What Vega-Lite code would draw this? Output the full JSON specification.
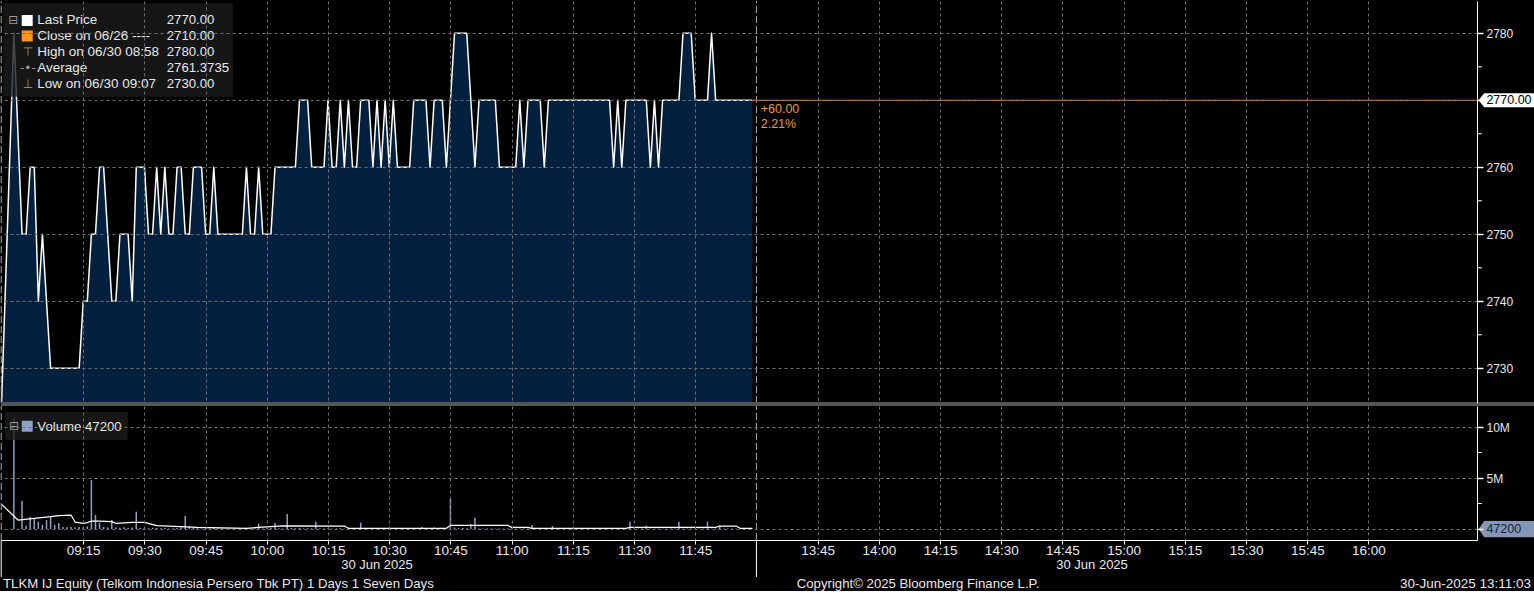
{
  "$schema": "https://vega.github.io/schema/vega-lite/v6.json",
  "background": "#000000",
  "padding": 0,
  "spacing": 3,
  "bounds": "flush",
  "config": {
    "view": {"stroke": null},
    "font": "Liberation Sans",
    "text": {"font": "Liberation Sans"}
  },
  "datasets": {
    "price": [
      {"m":-5.0,"p":2725},{"m":-2,"p":2780},{"m":0,"p":2750},{"m":1,"p":2750},{"m":2,"p":2760},{"m":3,"p":2760},{"m":4,"p":2740},{"m":5,"p":2750},{"m":6,"p":2740},{"m":7,"p":2730},{"m":8,"p":2730},{"m":9,"p":2730},{"m":10,"p":2730},{"m":11,"p":2730},{"m":12,"p":2730},{"m":13,"p":2730},{"m":14,"p":2730},{"m":15,"p":2740},{"m":16,"p":2740},{"m":17,"p":2750},{"m":18,"p":2750},{"m":19,"p":2760},{"m":20,"p":2760},{"m":21,"p":2750},{"m":22,"p":2740},{"m":23,"p":2740},{"m":24,"p":2750},{"m":25,"p":2750},{"m":26,"p":2750},{"m":27,"p":2740},{"m":28,"p":2760},{"m":29,"p":2760},{"m":30,"p":2760},{"m":31,"p":2750},{"m":32,"p":2750},{"m":33,"p":2760},{"m":34,"p":2750},{"m":35,"p":2760},{"m":36,"p":2750},{"m":37,"p":2750},{"m":38,"p":2760},{"m":39,"p":2760},{"m":40,"p":2750},{"m":41,"p":2750},{"m":42,"p":2760},{"m":43,"p":2760},{"m":44,"p":2760},{"m":45,"p":2750},{"m":46,"p":2750},{"m":47,"p":2760},{"m":48,"p":2750},{"m":49,"p":2750},{"m":50,"p":2750},{"m":51,"p":2750},{"m":52,"p":2750},{"m":53,"p":2750},{"m":54,"p":2750},{"m":55,"p":2760},{"m":56,"p":2750},{"m":57,"p":2750},{"m":58,"p":2760},{"m":59,"p":2750},{"m":60,"p":2750},{"m":61,"p":2750},{"m":62,"p":2760},{"m":63,"p":2760},{"m":64,"p":2760},{"m":65,"p":2760},{"m":66,"p":2760},{"m":67,"p":2760},{"m":68,"p":2770},{"m":69,"p":2770},{"m":70,"p":2770},{"m":71,"p":2760},{"m":72,"p":2760},{"m":73,"p":2760},{"m":74,"p":2760},{"m":75,"p":2770},{"m":76,"p":2760},{"m":77,"p":2760},{"m":78,"p":2770},{"m":79,"p":2760},{"m":80,"p":2770},{"m":81,"p":2760},{"m":82,"p":2760},{"m":83,"p":2770},{"m":84,"p":2770},{"m":85,"p":2770},{"m":86,"p":2760},{"m":87,"p":2770},{"m":88,"p":2760},{"m":89,"p":2770},{"m":90,"p":2760},{"m":91,"p":2770},{"m":92,"p":2760},{"m":93,"p":2760},{"m":94,"p":2760},{"m":95,"p":2760},{"m":96,"p":2770},{"m":97,"p":2770},{"m":98,"p":2770},{"m":99,"p":2770},{"m":100,"p":2760},{"m":101,"p":2770},{"m":102,"p":2770},{"m":103,"p":2770},{"m":104,"p":2760},{"m":105,"p":2770},{"m":106,"p":2780},{"m":107,"p":2780},{"m":108,"p":2780},{"m":109,"p":2780},{"m":110,"p":2770},{"m":111,"p":2760},{"m":112,"p":2770},{"m":113,"p":2770},{"m":114,"p":2770},{"m":115,"p":2770},{"m":116,"p":2770},{"m":117,"p":2760},{"m":118,"p":2760},{"m":119,"p":2760},{"m":120,"p":2760},{"m":121,"p":2760},{"m":122,"p":2770},{"m":123,"p":2760},{"m":124,"p":2770},{"m":125,"p":2770},{"m":126,"p":2770},{"m":127,"p":2770},{"m":128,"p":2760},{"m":129,"p":2770},{"m":130,"p":2770},{"m":131,"p":2770},{"m":132,"p":2770},{"m":133,"p":2770},{"m":134,"p":2770},{"m":135,"p":2770},{"m":136,"p":2770},{"m":137,"p":2770},{"m":138,"p":2770},{"m":139,"p":2770},{"m":140,"p":2770},{"m":141,"p":2770},{"m":142,"p":2770},{"m":143,"p":2770},{"m":144,"p":2770},{"m":145,"p":2760},{"m":146,"p":2770},{"m":147,"p":2760},{"m":148,"p":2770},{"m":149,"p":2770},{"m":150,"p":2770},{"m":151,"p":2770},{"m":152,"p":2770},{"m":153,"p":2770},{"m":154,"p":2760},{"m":155,"p":2770},{"m":156,"p":2760},{"m":157,"p":2770},{"m":158,"p":2770},{"m":159,"p":2770},{"m":160,"p":2770},{"m":161,"p":2770},{"m":162,"p":2780},{"m":163,"p":2780},{"m":164,"p":2780},{"m":165,"p":2770},{"m":166,"p":2770},{"m":167,"p":2770},{"m":168,"p":2770},{"m":169,"p":2780},{"m":170,"p":2770},{"m":171,"p":2770},{"m":172,"p":2770},{"m":173,"p":2770},{"m":174,"p":2770},{"m":175,"p":2770},{"m":176,"p":2770},{"m":177,"p":2770},{"m":178,"p":2770},{"m":179,"p":2770}
    ],
    "volume": [
      {"m":-2,"v":10850000},{"m":0,"v":2750000},{"m":1,"v":330000},{"m":2,"v":1180000},{"m":3,"v":1050000},{"m":4,"v":720000},{"m":5,"v":400000},{"m":6,"v":880000},{"m":7,"v":1200000},{"m":8,"v":400000},{"m":9,"v":590000},{"m":10,"v":200000},{"m":11,"v":180000},{"m":12,"v":200000},{"m":13,"v":150000},{"m":14,"v":200000},{"m":15,"v":180000},{"m":16,"v":250000},{"m":17,"v":4800000},{"m":18,"v":1370000},{"m":19,"v":620000},{"m":20,"v":200000},{"m":21,"v":150000},{"m":22,"v":880000},{"m":23,"v":150000},{"m":24,"v":120000},{"m":25,"v":180000},{"m":26,"v":100000},{"m":27,"v":150000},{"m":28,"v":1700000},{"m":29,"v":120000},{"m":30,"v":100000},{"m":31,"v":80000},{"m":32,"v":120000},{"m":33,"v":100000},{"m":34,"v":80000},{"m":35,"v":100000},{"m":36,"v":60000},{"m":37,"v":80000},{"m":38,"v":100000},{"m":39,"v":150000},{"m":40,"v":1270000},{"m":41,"v":250000},{"m":42,"v":100000},{"m":43,"v":80000},{"m":44,"v":60000},{"m":45,"v":80000},{"m":46,"v":60000},{"m":47,"v":100000},{"m":48,"v":60000},{"m":49,"v":50000},{"m":50,"v":60000},{"m":51,"v":50000},{"m":52,"v":60000},{"m":53,"v":50000},{"m":54,"v":60000},{"m":55,"v":100000},{"m":56,"v":60000},{"m":57,"v":80000},{"m":58,"v":520000},{"m":59,"v":60000},{"m":60,"v":80000},{"m":61,"v":100000},{"m":62,"v":590000},{"m":63,"v":80000},{"m":64,"v":60000},{"m":65,"v":1470000},{"m":66,"v":100000},{"m":67,"v":80000},{"m":68,"v":100000},{"m":69,"v":60000},{"m":70,"v":80000},{"m":71,"v":60000},{"m":72,"v":720000},{"m":73,"v":50000},{"m":74,"v":60000},{"m":75,"v":80000},{"m":76,"v":50000},{"m":77,"v":60000},{"m":78,"v":80000},{"m":79,"v":50000},{"m":80,"v":60000},{"m":81,"v":50000},{"m":82,"v":60000},{"m":83,"v":620000},{"m":84,"v":60000},{"m":85,"v":50000},{"m":86,"v":40000},{"m":87,"v":50000},{"m":88,"v":40000},{"m":89,"v":50000},{"m":90,"v":40000},{"m":91,"v":50000},{"m":92,"v":40000},{"m":93,"v":40000},{"m":94,"v":50000},{"m":95,"v":40000},{"m":96,"v":50000},{"m":97,"v":40000},{"m":98,"v":200000},{"m":99,"v":40000},{"m":100,"v":50000},{"m":101,"v":150000},{"m":102,"v":50000},{"m":103,"v":40000},{"m":104,"v":60000},{"m":105,"v":2940000},{"m":106,"v":150000},{"m":107,"v":120000},{"m":108,"v":100000},{"m":109,"v":80000},{"m":110,"v":490000},{"m":111,"v":1110000},{"m":112,"v":60000},{"m":113,"v":50000},{"m":114,"v":60000},{"m":115,"v":50000},{"m":116,"v":40000},{"m":117,"v":50000},{"m":118,"v":40000},{"m":119,"v":50000},{"m":120,"v":40000},{"m":121,"v":50000},{"m":122,"v":40000},{"m":123,"v":50000},{"m":124,"v":40000},{"m":125,"v":390000},{"m":126,"v":40000},{"m":127,"v":50000},{"m":128,"v":40000},{"m":129,"v":40000},{"m":130,"v":290000},{"m":131,"v":40000},{"m":132,"v":40000},{"m":133,"v":40000},{"m":134,"v":40000},{"m":135,"v":40000},{"m":136,"v":40000},{"m":137,"v":40000},{"m":138,"v":40000},{"m":139,"v":40000},{"m":140,"v":40000},{"m":141,"v":40000},{"m":142,"v":40000},{"m":143,"v":40000},{"m":144,"v":40000},{"m":145,"v":40000},{"m":146,"v":40000},{"m":147,"v":40000},{"m":148,"v":40000},{"m":149,"v":720000},{"m":150,"v":40000},{"m":151,"v":40000},{"m":152,"v":40000},{"m":153,"v":330000},{"m":154,"v":40000},{"m":155,"v":40000},{"m":156,"v":40000},{"m":157,"v":40000},{"m":158,"v":40000},{"m":159,"v":40000},{"m":160,"v":40000},{"m":161,"v":720000},{"m":162,"v":40000},{"m":163,"v":40000},{"m":164,"v":40000},{"m":165,"v":40000},{"m":166,"v":40000},{"m":167,"v":40000},{"m":168,"v":720000},{"m":169,"v":40000},{"m":170,"v":40000},{"m":171,"v":330000},{"m":172,"v":40000},{"m":173,"v":40000},{"m":174,"v":40000},{"m":175,"v":40000},{"m":176,"v":40000},{"m":177,"v":40000},{"m":178,"v":40000},{"m":179,"v":47200}
    ],
    "ma": [
      {"m":-5.0,"v":2420000},{"m":-1,"v":880000},{"m":3,"v":1050000},{"m":7,"v":1210000},{"m":9,"v":1310000},{"m":12,"v":1370000},{"m":13,"v":680000},{"m":15,"v":560000},{"m":16,"v":620000},{"m":17,"v":780000},{"m":19,"v":780000},{"m":22,"v":720000},{"m":23,"v":560000},{"m":27,"v":650000},{"m":30,"v":650000},{"m":33,"v":330000},{"m":43,"v":160000},{"m":55,"v":70000},{"m":58,"v":160000},{"m":64,"v":300000},{"m":79,"v":290000},{"m":80,"v":70000},{"m":104,"v":70000},{"m":105,"v":350000},{"m":119,"v":370000},{"m":120,"v":160000},{"m":124,"v":160000},{"m":125,"v":70000},{"m":148,"v":70000},{"m":149,"v":160000},{"m":170,"v":160000},{"m":171,"v":290000},{"m":175,"v":290000},{"m":176,"v":70000},{"m":179,"v":70000}
    ]
  },
  "vconcat": [
    {
      "width": 1476,
      "height": 402,
      "encoding": {
        "x": {"field": "m", "type": "quantitative", "scale": {"domain": [-5.155, 356.6], "nice": false, "zero": false},
          "axis": {"values": [15,30,45,60,75,90,105,120,135,150,165,195,210,225,240,255,270,285,300,315,330], "grid": true, "gridColor": "#6e6e6e", "gridDash": [3,3], "labels": false, "ticks": false, "domain": false, "title": null, "zindex": 1}},
        "y": {"field": "p", "type": "quantitative", "scale": {"domain": [2724.82, 2784.82], "nice": false, "zero": false},
          "axis": {"orient": "right", "values": [2730,2740,2750,2760,2770,2780], "format": "d", "labelExpr": "datum.value == 2770 ? '' : datum.label", "grid": true, "gridColor": "#6e6e6e", "gridDash": [3,3], "domainColor": "#ffffff", "tickColor": "#ffffff", "tickSize": 6, "tickWidth": 1.5, "labelColor": "#e8e8e8", "labelFontSize": 12, "labelPadding": 3, "title": null, "zindex": 1}}
      },
      "layer": [
        {
          "data": {"name": "price"},
          "mark": {"type": "area", "color": "#04203f", "interpolate": "linear"},
          "encoding": {"y2": {"datum": 2724.82}}
        },
        {
          "data": {"name": "price"},
          "mark": {"type": "line", "color": "#ffffff", "strokeWidth": 1.5, "strokeJoin": "round", "interpolate": "linear"}
        },
        {
          "data": {"values": [{"m": -5.1, "p": 2724.82, "p2": 2784.82}, {"m": 180, "p": 2724.82, "p2": 2784.82}]},
          "mark": {"type": "rule", "color": "#a8a8a8", "strokeDash": [7,3], "strokeWidth": 1},
          "encoding": {"y2": {"field": "p2"}}
        },
        {
          "data": {"values": [{"m": 179, "m2": 358, "p": 2770}]},
          "mark": {"type": "rule", "color": "#f0902a", "strokeWidth": 1},
          "encoding": {"x2": {"field": "m2"}}
        },
        {
          "data": {"values": [{"m": 357.3, "p": 2735}, {"m": 357.3, "p": 2745}, {"m": 357.3, "p": 2755}, {"m": 357.3, "p": 2765}, {"m": 357.3, "p": 2775}]},
          "mark": {"type": "tick", "orient": "horizontal", "size": 4, "thickness": 1, "color": "#ffffff", "opacity": 1}
        },
        {
          "data": {"values": [{"m": -4.58, "m2": 51.7, "p": 2784.48, "p2": 2770.54}]},
          "mark": {"type": "rect", "color": "#1b1b1b", "opacity": 0.8},
          "encoding": {"x2": {"field": "m2"}, "y2": {"field": "p2"}}
        },
        {
          "data": {"values": [{"m": 1.27, "p": 2781.91}]},
          "mark": {"type": "point", "shape": "square", "filled": true, "size": 121, "color": "#ffffff", "opacity": 1}
        },
        {
          "data": {"values": [{"m": 1.27, "p": 2779.6}]},
          "mark": {"type": "point", "shape": "square", "filled": true, "size": 121, "color": "#f7941d", "opacity": 1}
        },
        {
          "data": {"values": [
            {"m": 3.75, "p": 2781.91, "t": "Last Price"},
            {"m": 3.75, "p": 2779.6, "t": "Close on 06/26 ----"},
            {"m": 3.75, "p": 2777.21, "t": "High on 06/30 08:58"},
            {"m": 3.75, "p": 2774.82, "t": "Average"},
            {"m": 3.75, "p": 2772.43, "t": "Low on 06/30 09:07"}
          ]},
          "mark": {"type": "text", "align": "left", "baseline": "middle", "color": "#e8e8e8", "fontSize": 13.5},
          "encoding": {"text": {"field": "t"}}
        },
        {
          "data": {"values": [
            {"m": 35.46, "p": 2781.91, "t": "2770.00"},
            {"m": 35.46, "p": 2779.6, "t": "2710.00"},
            {"m": 35.46, "p": 2777.21, "t": "2780.00"},
            {"m": 35.46, "p": 2774.82, "t": "2761.3735"},
            {"m": 35.46, "p": 2772.43, "t": "2730.00"}
          ]},
          "mark": {"type": "text", "align": "left", "baseline": "middle", "color": "#e8e8e8", "fontSize": 13.2},
          "encoding": {"text": {"field": "t"}}
        },
        {
          "data": {"values": [
            {"m": -2.13, "p": 2781.91, "t": "⊟"},
            {"m": 1.43, "p": 2777.21, "t": "⊤"},
            {"m": 1.43, "p": 2774.82, "t": "-•-"},
            {"m": 1.43, "p": 2772.43, "t": "⊥"}
          ]},
          "mark": {"type": "text", "align": "center", "baseline": "middle", "color": "#9a9a9a", "fontSize": 12, "font": "DejaVu Sans"},
          "encoding": {"text": {"field": "t"}}
        },
        {
          "data": {"values": [
            {"m": 181.05, "p": 2768.66, "t": "+60.00"},
            {"m": 181.05, "p": 2766.46, "t": "2.21%"}
          ]},
          "mark": {"type": "text", "align": "left", "baseline": "middle", "color": "#f0982e", "fontSize": 12.5},
          "encoding": {"text": {"field": "t"}}
        },
        {
          "data": {"values": [{"m": 363.85, "p": 2770}]},
          "mark": {"type": "point", "shape": "M-1,0L-0.8,-0.25L1,-0.25L1,0.25L-0.8,0.25Z", "filled": true, "size": 3136, "color": "#ffffff", "opacity": 1, "strokeWidth": 0}
        },
        {
          "data": {"values": [{"m": 358.9, "p": 2770, "t": "2770.00"}]},
          "mark": {"type": "text", "align": "left", "baseline": "middle", "color": "#000000", "fontSize": 12.5},
          "encoding": {"text": {"field": "t"}}
        },
        {
          "data": {"values": [{"m": -5.155, "m2": 371, "p": 2724.97, "p2": 2724.37}]},
          "mark": {"type": "rect", "color": "#555555"},
          "encoding": {"x2": {"field": "m2"}, "y2": {"field": "p2"}}
        }
      ]
    },
    {
      "width": 1476,
      "height": 134,
      "encoding": {
        "x": {"field": "m", "type": "quantitative", "scale": {"domain": [-5.155, 356.6], "nice": false, "zero": false},
          "axis": {"values": [15,30,45,60,75,90,105,120,135,150,165,195,210,225,240,255,270,285,300,315,330], "labelExpr": "timeFormat(datetime(2025, 5, 30, 9, datum.value < 180 ? datum.value : datum.value + 90), '%H:%M')", "grid": true, "gridColor": "#6e6e6e", "gridDash": [3,3], "domainColor": "#ffffff", "tickColor": "#ffffff", "tickSize": 4, "labelColor": "#e8e8e8", "labelFontSize": 13.5, "labelPadding": -1, "labelFlush": false, "labelOverlap": false, "title": null, "zindex": 1}},
        "y": {"field": "v", "type": "quantitative", "scale": {"domain": [-1078000, 12060000], "nice": false, "zero": false},
          "axis": {"orient": "right", "values": [0, 5000000, 10000000], "labelExpr": "datum.value == 0 ? '' : format(datum.value / 1000000, 'd') + 'M'", "grid": true, "gridColor": "#6e6e6e", "gridDash": [3,3], "domainColor": "#ffffff", "tickColor": "#ffffff", "tickSize": 6, "tickWidth": 1.5, "labelColor": "#e8e8e8", "labelFontSize": 12, "labelPadding": 3, "title": null, "zindex": 1}}
      },
      "layer": [
        {
          "data": {"name": "volume"},
          "mark": {"type": "rule", "color": "#8da2c2", "strokeWidth": 1.5},
          "encoding": {"y2": {"datum": 0}}
        },
        {
          "data": {"name": "ma"},
          "mark": {"type": "line", "color": "#ffffff", "strokeWidth": 1.2, "strokeJoin": "round"}
        },
        {
          "data": {"values": [{"m": -5.1, "v": -1078000, "v2": 12060000}, {"m": 180, "v": -1078000, "v2": 12060000}]},
          "mark": {"type": "rule", "color": "#a8a8a8", "strokeDash": [7,3], "strokeWidth": 1},
          "encoding": {"y2": {"field": "v2"}}
        },
        {
          "data": {"values": [{"m": -5.1, "v": -1078000, "v2": -4700000}, {"m": 180, "v": -1078000, "v2": -4700000}]},
          "mark": {"type": "rule", "color": "#ffffff", "strokeWidth": 1},
          "encoding": {"y2": {"field": "v2"}}
        },
        {
          "data": {"values": [{"m": 357.3, "v": 2500000}, {"m": 357.3, "v": 7500000}]},
          "mark": {"type": "tick", "orient": "horizontal", "size": 4, "thickness": 1, "color": "#ffffff", "opacity": 1}
        },
        {
          "data": {"values": [{"m": -4.17, "m2": 25.9, "v": 11470000, "v2": 8730000}]},
          "mark": {"type": "rect", "color": "#1b1b1b", "opacity": 0.8},
          "encoding": {"x2": {"field": "m2"}, "y2": {"field": "v2"}}
        },
        {
          "data": {"values": [{"m": 1.27, "v": 10080000}]},
          "mark": {"type": "point", "shape": "square", "filled": true, "size": 121, "color": "#8da2c2", "opacity": 1}
        },
        {
          "data": {"values": [{"m": -1.96, "v": 10130000, "t": "⊟"}]},
          "mark": {"type": "text", "align": "center", "baseline": "middle", "color": "#9a9a9a", "fontSize": 12, "font": "DejaVu Sans"},
          "encoding": {"text": {"field": "t"}}
        },
        {
          "data": {"values": [{"m": 3.75, "v": 10050000, "t": "Volume  47200"}]},
          "mark": {"type": "text", "align": "left", "baseline": "middle", "color": "#e8e8e8", "fontSize": 13.2},
          "encoding": {"text": {"field": "t"}}
        },
        {
          "data": {"values": [{"m": 363.85, "v": 0}]},
          "mark": {"type": "point", "shape": "M-1,0L-0.8,-0.29L1,-0.29L1,0.29L-0.8,0.29Z", "filled": true, "size": 3136, "color": "#8497b5", "opacity": 1, "strokeWidth": 0}
        },
        {
          "data": {"values": [{"m": 358.9, "v": 0, "t": "47200"}]},
          "mark": {"type": "text", "align": "left", "baseline": "middle", "color": "#14213a", "fontSize": 12.5},
          "encoding": {"text": {"field": "t"}}
        },
        {
          "data": {"values": [{"m": 87, "v": -3530000, "t": "30 Jun 2025"}, {"m": 262.25, "v": -3530000, "t": "30 Jun 2025"}]},
          "mark": {"type": "text", "align": "center", "baseline": "middle", "color": "#e8e8e8", "fontSize": 13},
          "encoding": {"text": {"field": "t"}}
        },
        {
          "data": {"values": [{"m": 219.6, "v": -5390000, "t": "Copyright© 2025 Bloomberg Finance L.P."}]},
          "mark": {"type": "text", "align": "center", "baseline": "middle", "color": "#e8e8e8", "fontSize": 13.2},
          "encoding": {"text": {"field": "t"}}
        },
        {
          "data": {"values": [{"m": -4.66, "v": -5390000, "t": "TLKM IJ Equity (Telkom Indonesia Persero Tbk PT) 1 Days 1 Seven Days"}]},
          "mark": {"type": "text", "align": "left", "baseline": "middle", "color": "#e8e8e8", "fontSize": 13.2},
          "encoding": {"text": {"field": "t"}}
        },
        {
          "data": {"values": [{"m": 369.85, "v": -5390000, "t": "30-Jun-2025 13:11:03"}]},
          "mark": {"type": "text", "align": "right", "baseline": "middle", "color": "#e8e8e8", "fontSize": 13.5},
          "encoding": {"text": {"field": "t"}}
        }
      ]
    }
  ]
}
